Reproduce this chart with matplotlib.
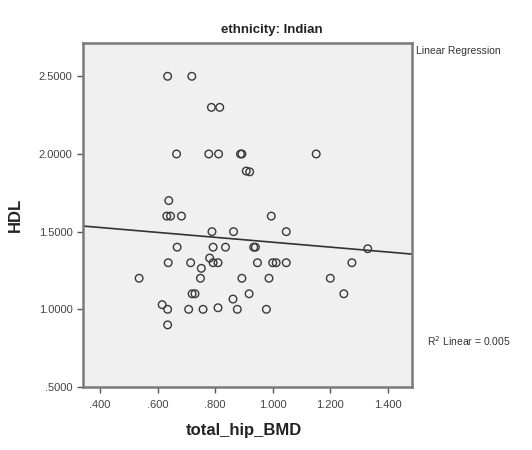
import matplotlib
matplotlib.use("Agg")
import matplotlib.pyplot as plt
import numpy as np

plt.rcParams['font.family'] = ['Liberation Sans', 'DejaVu Sans']

# Data
total_hip_BMD = [0.635, 0.719, 0.787, 0.816, 0.666, 0.778, 0.812, 0.888, 0.893,
                 0.908, 0.920, 1.151,
                 0.639, 0.632, 0.645, 0.683, 0.789, 0.864, 0.995, 1.047,
                 0.668, 0.793, 0.836, 0.934, 0.940, 1.330,
                 0.637, 0.715, 0.781, 0.793, 0.810, 0.947, 1.000, 1.012, 1.047, 1.275,
                 0.752, 0.749, 0.536, 0.893, 0.987, 1.200,
                 0.720, 0.730, 0.918, 1.247, 0.862,
                 0.616, 0.635, 0.708, 0.758, 0.810, 0.877, 0.978, 0.635]
HDL = [2.50, 2.50, 2.30, 2.30, 2.00, 2.00, 2.00, 2.00, 2.00,
       1.89, 1.885, 2.00,
       1.70, 1.60, 1.60, 1.60, 1.50, 1.50, 1.60, 1.50,
       1.40, 1.40, 1.40, 1.40, 1.40, 1.39,
       1.30, 1.30, 1.33, 1.30, 1.30, 1.30, 1.30, 1.30, 1.30, 1.30,
       1.264, 1.20, 1.20, 1.20, 1.20, 1.20,
       1.10, 1.10, 1.10, 1.10, 1.066,
       1.03, 1.00, 1.00, 1.00, 1.01, 1.00, 1.00, 0.90]

fit_intercept = 1.590
fit_slope = -0.158
r2_text = "R$^2$ Linear = 0.005"

x_ticks = [0.4, 0.6, 0.8, 1.0, 1.2, 1.4]
x_ticklabels = [".400", ".600", ".800", "1.000", "1.200", "1.400"]
y_ticks = [0.5, 1.0, 1.5, 2.0, 2.5]
y_ticklabels = [".5000", "1.0000", "1.5000", "2.0000", "2.5000"]
xlim = (0.341, 1.483)
ylim = (0.5, 2.713)

fig = plt.figure(figsize=(5.32, 4.5), dpi=100)
ax = fig.add_axes([0.156, 0.14, 0.618, 0.764])
ax.set_facecolor('#F0F0F0')

ax.scatter(total_hip_BMD, HDL, s=30, facecolors='none', edgecolors='#3a3a3a',
           linewidths=1.0, zorder=3)

lx = np.array(xlim)
ax.plot(lx, fit_intercept + fit_slope * lx, color='#333333', lw=1.2, zorder=2)

ax.set_xlim(*xlim)
ax.set_ylim(*ylim)
ax.set_xticks(x_ticks)
ax.set_xticklabels(x_ticklabels)
ax.set_yticks(y_ticks)
ax.set_yticklabels(y_ticklabels)
ax.tick_params(direction='out', length=4, width=1, colors='#555555',
               labelsize=8, labelcolor='#444444')
ax.tick_params(axis='x', pad=5)

for s in ax.spines.values():
    s.set_color('#7a7a7a')
    s.set_linewidth(1.8)

fig.text(272 / 532, 1 - 30 / 450, 'ethnicity: Indian', fontsize=9.5,
         fontweight='bold', ha='center', va='center', color='#222222')
fig.text(244 / 532, 1 - 431 / 450, 'total_hip_BMD', fontsize=12,
         fontweight='bold', ha='center', va='center', color='#222222')
fig.text(15 / 532, 1 - 215 / 450, 'HDL', fontsize=12, fontweight='bold',
         ha='center', va='center', rotation=90, color='#222222')

fig.text(416 / 532, 1 - 51 / 450, 'Linear Regression', fontsize=7.5, color='#333333',
         va='center', ha='left')
fig.text(427 / 532, 1 - 341 / 450, r2_text, fontsize=7.5, color='#333333',
         va='center', ha='left')

fig.savefig('out.png', dpi=100, facecolor='white')
